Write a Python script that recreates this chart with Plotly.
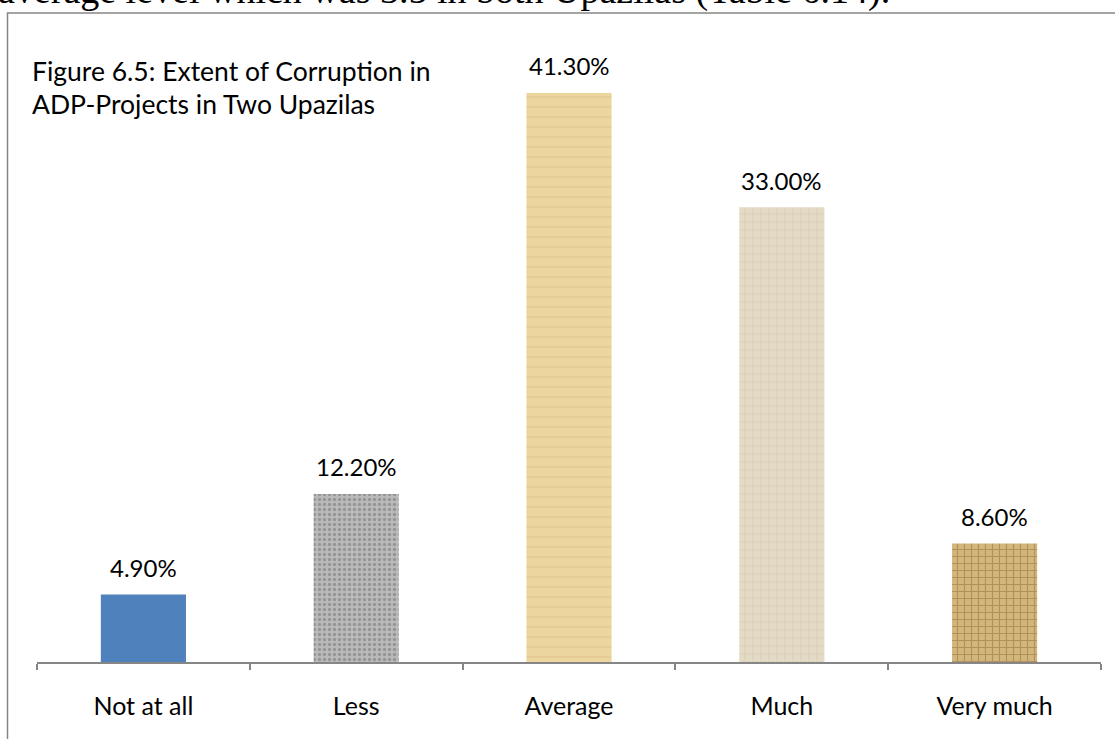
import plotly.graph_objects as go

categories = ["Not at all", "Less", "Average", "Much", "Very much"]
values = [4.9, 12.2, 41.3, 33.0, 8.6]
value_labels = ["4.90%", "12.20%", "41.30%", "33.00%", "8.60%"]
title_lines = ["Figure 6.5: Extent of Corruption in", "ADP-Projects in Two Upazilas"]
body_text = "average level which was 3.5 in both Upazilas (Table 6.14)."

bar_colors = ["#4F81BD", "#BABABA", "#ECD69E", "#E4DBC7", "#D3B67C"]
pat_shapes = ["", ".", "-", "+", "+"]
pat_fg = ["#4F81BD", "#707070", "#D8BD84", "#CBBEA2", "#8E6B35"]
pat_size = [8, 5, 10, 8, 7]
pat_solid = [0.2, 0.35, 0.15, 0.2, 0.3]

W, H = 1115, 739
ML, MR, MT, MB = 37, 14, 42, 77
PW, PH = W - ML - MR, H - MT - MB
FONT = "Lato"


def px_x(px):
    return (px - ML) / PW


def px_y(py):
    return (H - MB - py) / PH


fig = go.Figure()
for i, c in enumerate(categories):
    marker = dict(color=bar_colors[i], line=dict(width=0))
    if pat_shapes[i]:
        marker["pattern"] = dict(shape=pat_shapes[i], fgcolor=pat_fg[i], size=pat_size[i],
                                 solidity=pat_solid[i], fillmode="overlay")
    fig.add_trace(go.Bar(x=[c], y=[values[i]], width=0.4, marker=marker, hoverinfo="skip"))

annotations = []
for c, v, lab in zip(categories, values, value_labels):
    annotations.append(dict(x=c, y=v, xref="x", yref="y", text=lab, showarrow=False,
                            yanchor="middle", yshift=27,
                            font=dict(family=FONT, size=24, color="#000000")))

annotations.append(dict(x=px_x(30), y=px_y(71), xref="paper", yref="paper", text=title_lines[0],
                        showarrow=False, xanchor="left", yanchor="middle",
                        font=dict(family=FONT, size=26.5, color="#000000")))
annotations.append(dict(x=px_x(30), y=px_y(104), xref="paper", yref="paper", text=title_lines[1],
                        showarrow=False, xanchor="left", yanchor="middle",
                        font=dict(family=FONT, size=26.5, color="#000000")))
annotations.append(dict(x=px_x(-4), y=px_y(-9), xref="paper", yref="paper", text=body_text,
                        showarrow=False, xanchor="left", yanchor="middle",
                        font=dict(family="Liberation Serif", size=38, color="#000000")))

fig.add_shape(type="rect", xref="paper", yref="paper",
              x0=px_x(7.5), x1=px_x(1130), y0=px_y(13), y1=px_y(760),
              line=dict(color="#868686", width=1.5), fillcolor="rgba(0,0,0,0)", layer="above")

fig.update_layout(
    width=W, height=H,
    margin=dict(l=ML, r=MR, t=MT, b=MB),
    paper_bgcolor="white", plot_bgcolor="white",
    showlegend=False, barmode="overlay",
    annotations=annotations,
    xaxis=dict(showline=True, linecolor="#868686", linewidth=1.5,
               ticks="outside", tickson="boundaries", ticklen=6, tickcolor="#868686", tickwidth=1.5,
               range=[-0.5, 4.5], showgrid=False, zeroline=False,
               ticklabelstandoff=21,
               tickfont=dict(family=FONT, size=25, color="#000000")),
    yaxis=dict(range=[0, 45], visible=False, showgrid=False, zeroline=False),
)

fig.write_html("out.html", config={"displayModeBar": False},
               post_script="document.body.style.margin='0';document.body.style.overflow='hidden';")
